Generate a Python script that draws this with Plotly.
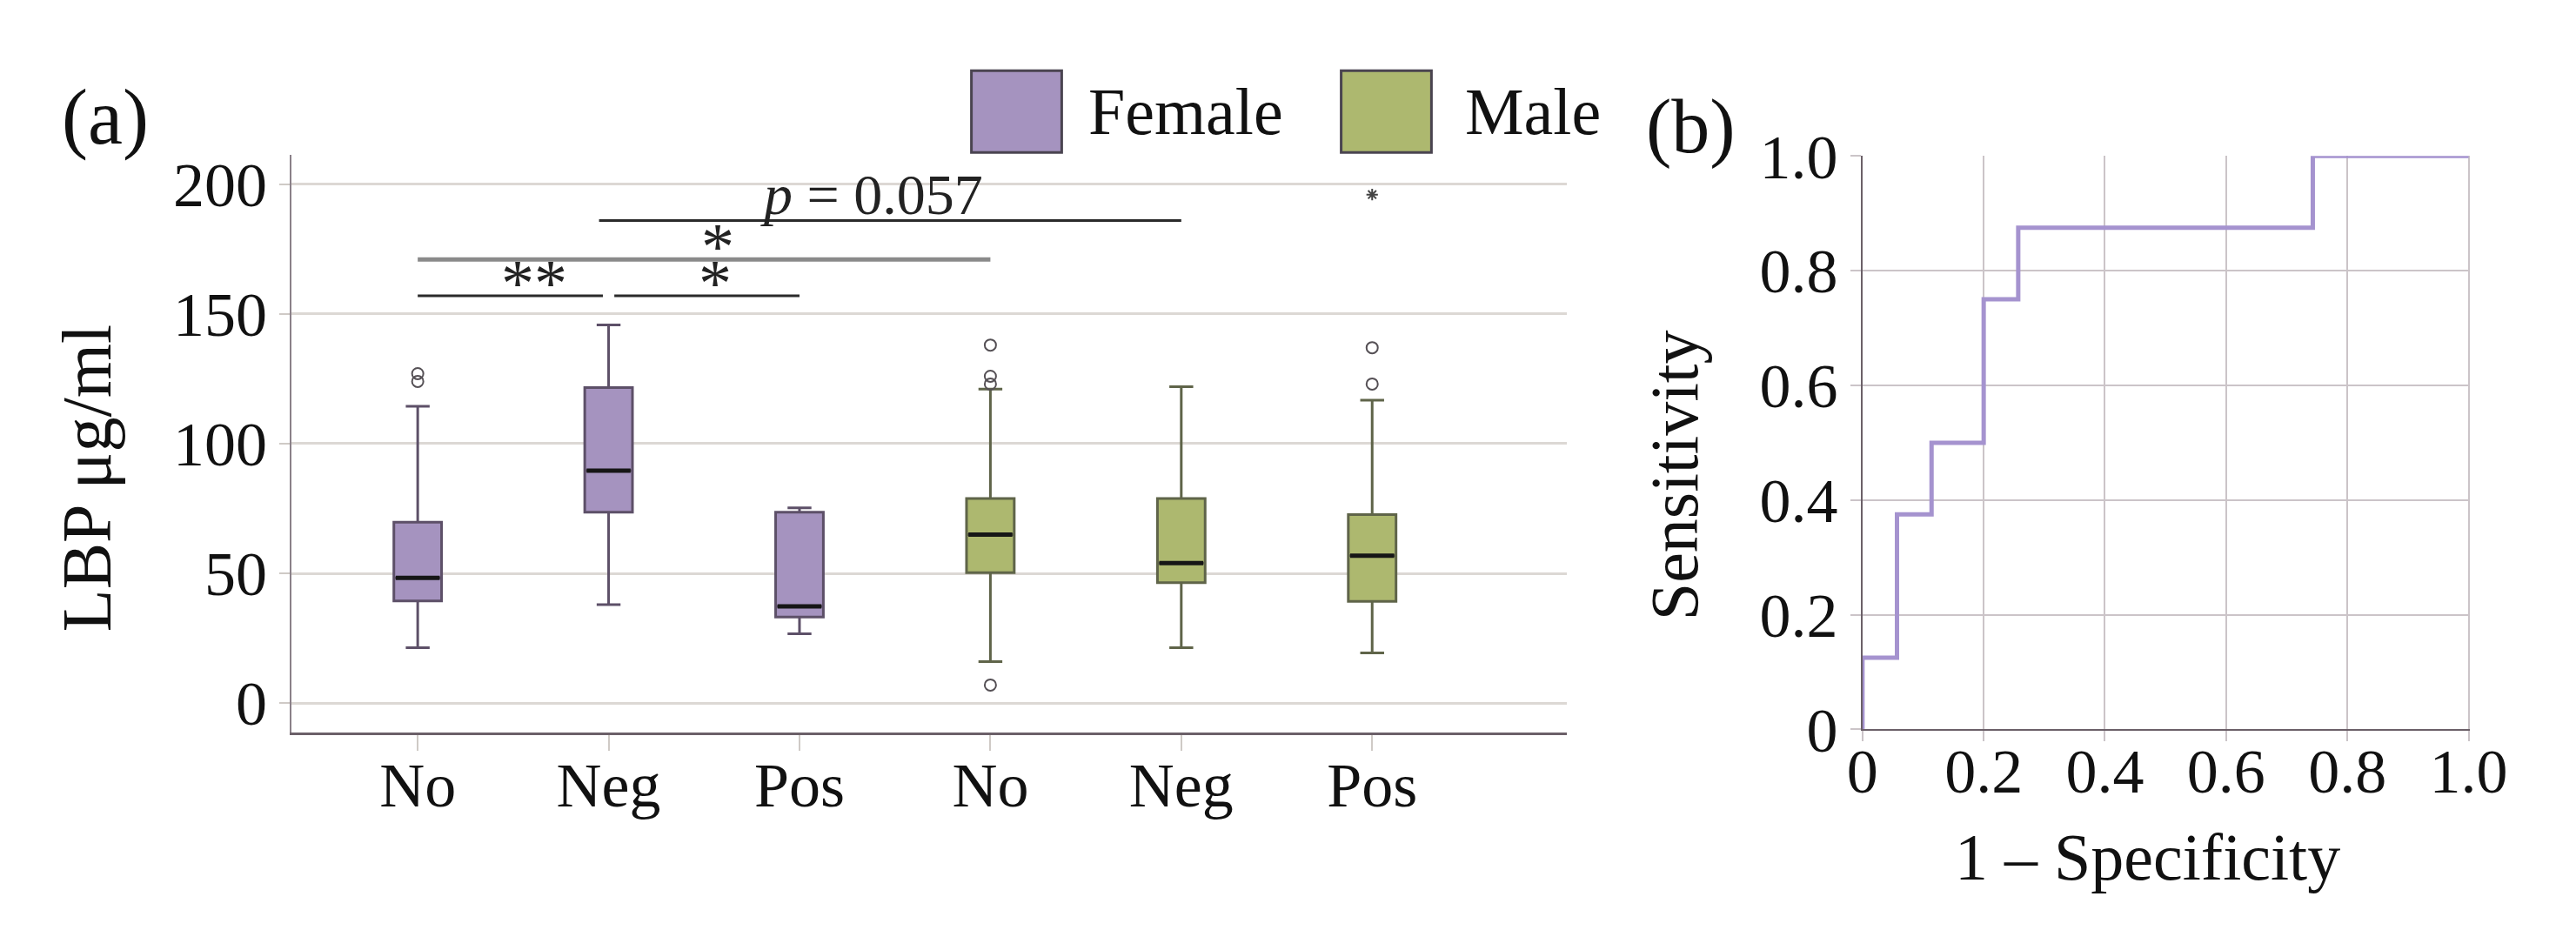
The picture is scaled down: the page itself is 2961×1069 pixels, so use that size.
import plotly.graph_objects as go

# box statistics, LBP ug/ml
groups = ['No', 'Neg', 'Pos']
female_lower = [21.4, 38.0, 26.7]
female_q1 = [39.4, 73.6, 33.2]
female_median = [48.3, 89.6, 37.3]
female_q3 = [69.7, 121.6, 73.6]
female_upper = [114.4, 145.8, 75.3]

male_lower = [16.0, 21.4, 19.4]
male_q1 = [50.3, 46.4, 39.2]
male_median = [65.0, 54.0, 56.8]
male_q3 = [78.9, 78.9, 72.7]
male_upper = [121.0, 122.0, 116.8]

# outliers: (box index 0-5, value)
outlier_box = [0, 0, 3, 3, 3, 3, 5, 5]
outlier_val = [127, 124, 138, 126, 123, 7, 137, 123]
extreme_box = [5]
extreme_val = [196]

# ROC curve, panel (b)
roc_fpr = [0, 0, 0.057, 0.114, 0.2, 0.257, 0.743, 1.0]
roc_tpr = [0, 0.125, 0.375, 0.5, 0.75, 0.875, 1.0, 1.0]

FONT = 'Liberation Serif'
female_fill, female_edge = '#a593bf', '#5d5068'
male_fill, male_edge = '#adb86f', '#5f6449'
BW = 0.25

fig = go.Figure()

pos_f = list(range(len(groups)))
pos_m = [p + len(groups) for p in pos_f]

fig.add_trace(go.Box(x=pos_f, q1=female_q1, median=female_median, q3=female_q3,
                     lowerfence=female_lower, upperfence=female_upper,
                     width=BW, whiskerwidth=0.5, fillcolor=female_fill,
                     line=dict(color=female_edge, width=3), name='Female',
                     showlegend=False, xaxis='x', yaxis='y'))
fig.add_trace(go.Box(x=pos_m, q1=male_q1, median=male_median, q3=male_q3,
                     lowerfence=male_lower, upperfence=male_upper,
                     width=BW, whiskerwidth=0.5, fillcolor=male_fill,
                     line=dict(color=male_edge, width=3), name='Male',
                     showlegend=False, xaxis='x', yaxis='y'))

# black median bars on top
for p, m in zip(pos_f + pos_m, female_median + male_median):
    fig.add_trace(go.Scatter(x=[p - BW / 2 + 0.01, p + BW / 2 - 0.01], y=[m, m], mode='lines',
                             line=dict(color='#161616', width=5), showlegend=False,
                             hoverinfo='skip'))

fig.add_trace(go.Scatter(x=outlier_box, y=outlier_val, mode='markers',
                         marker=dict(symbol='circle-open', size=13, color='#555055',
                                     line=dict(width=2)), showlegend=False))
fig.add_trace(go.Scatter(x=extreme_box, y=extreme_val, mode='markers',
                         marker=dict(symbol='asterisk-open', size=11, color='#444',
                                     line=dict(width=2)), showlegend=False))

# significance brackets
brackets = [
    ([0, 0.97], 157, '#2a2a2a', 3),
    ([1.03, 2], 157, '#2a2a2a', 3),
    ([0, 3], 171, '#8a8a8a', 5),
    ([0.95, 4], 186, '#2a2a2a', 3),
]
for xs, yv, col, w in brackets:
    fig.add_trace(go.Scatter(x=xs, y=[yv, yv], mode='lines', line=dict(color=col, width=w),
                             showlegend=False, hoverinfo='skip'))

sig_text = [(0.61, 162, '**'), (1.56, 162, '*'), (1.57, 176, '*'),
            (2.38, 196, '<i>p</i> = 0.057')]
for xv, yv, t in sig_text:
    fig.add_annotation(x=xv, y=yv, text=t, showarrow=False, xref='x', yref='y',
                       yanchor='middle', font=dict(family=FONT, size=66 if 'p' in t else 76,
                                                   color='#222'))

# ROC
fig.add_trace(go.Scatter(x=roc_fpr, y=roc_tpr, mode='lines', line_shape='hv',
                         line=dict(color='#a593cf', width=5), showlegend=False,
                         cliponaxis=False, xaxis='x2', yaxis='y2'))

tickfont = dict(family=FONT, size=72, color='#111')

fig.update_layout(
    width=2961, height=1069,
    margin=dict(l=0, r=0, t=0, b=0),
    paper_bgcolor='white', plot_bgcolor='white',
    boxmode='overlay',
    xaxis=dict(domain=[0.1067, 0.6123], range=[-0.66, 6.02],
               tickvals=pos_f + pos_m, ticktext=groups + groups,
               showgrid=False, zeroline=False, showline=True,
               linecolor='#6b6068', linewidth=3,
               ticks='outside', ticklen=18, tickwidth=2, tickcolor='#cfcac6',
               ticklabelstandoff=-22, tickfont=tickfont),
    yaxis=dict(domain=[0.1965, 0.8672], range=[-11.2, 211.2],
               tickvals=[0, 50, 100, 150, 200],
               showgrid=True, gridcolor='#dcd8d4', gridwidth=3, zeroline=False,
               showline=True, linecolor='#8a8088', linewidth=2,
               ticks='outside', ticklen=12, tickwidth=2, tickcolor='#cfcac6',
               tickfont=tickfont),
    xaxis2=dict(domain=[0.7295, 0.9703], range=[0, 1.002], anchor='y2',
                tickvals=[0, 0.2, 0.4, 0.6, 0.8, 1.0],
                ticktext=['0', '0.2', '0.4', '0.6', '0.8', '1.0'],
                showgrid=True, gridcolor='#cbc4c8', gridwidth=2, zeroline=False,
                showline=True, linecolor='#6b6068', linewidth=2,
                ticks='outside', ticklen=12, tickwidth=2, tickcolor='#cbc4c8',
                ticklabelstandoff=-28, tickfont=tickfont),
    yaxis2=dict(domain=[0.1997, 0.8662], range=[0, 1], anchor='x2',
                tickvals=[0, 0.2, 0.4, 0.6, 0.8, 1.0],
                ticktext=['0', '0.2', '0.4', '0.6', '0.8', '1.0'],
                showgrid=True, gridcolor='#cbc4c8', gridwidth=2, zeroline=False,
                showline=True, linecolor='#6b6068', linewidth=2,
                ticks='outside', ticklen=12, tickwidth=2, tickcolor='#cbc4c8',
                tickfont=tickfont),
)

# panel labels and axis titles
labels = [
    (0.0328, 0.911, '(a)', 90, 0),
    (0.6613, 0.9008, '(b)', 88, 0),
    (0.0253, 0.4916, 'LBP μg/ml', 80, -90),
    (0.6549, 0.4948, 'Sensitivity', 78, -90),
    (0.8426, 0.052, '1 – Specificity', 76, 0),
]
for xv, yv, t, s, ang in labels:
    fig.add_annotation(x=xv, y=yv, xref='paper', yref='paper', text=t, showarrow=False,
                       textangle=ang, xanchor='center', yanchor='middle',
                       font=dict(family=FONT, size=s, color='#111'))

# legend drawn by hand: big swatches
legend_items = [('Female', female_fill, 0.3762, 0.4120, 0.4218),
                ('Male', male_fill, 0.5228, 0.5586, 0.5711)]
for name, col, x0, x1, xt in legend_items:
    fig.add_shape(type='rect', xref='paper', yref='paper', x0=x0, x1=x1, y0=0.8704, y1=0.9654,
                  fillcolor=col, line=dict(color='#4a4450', width=3))
    fig.add_annotation(x=xt, y=0.9177, xref='paper', yref='paper', text=name, showarrow=False,
                       xanchor='left', yanchor='middle',
                       font=dict(family=FONT, size=76, color='#111'))

fig.write_html("out.html")
